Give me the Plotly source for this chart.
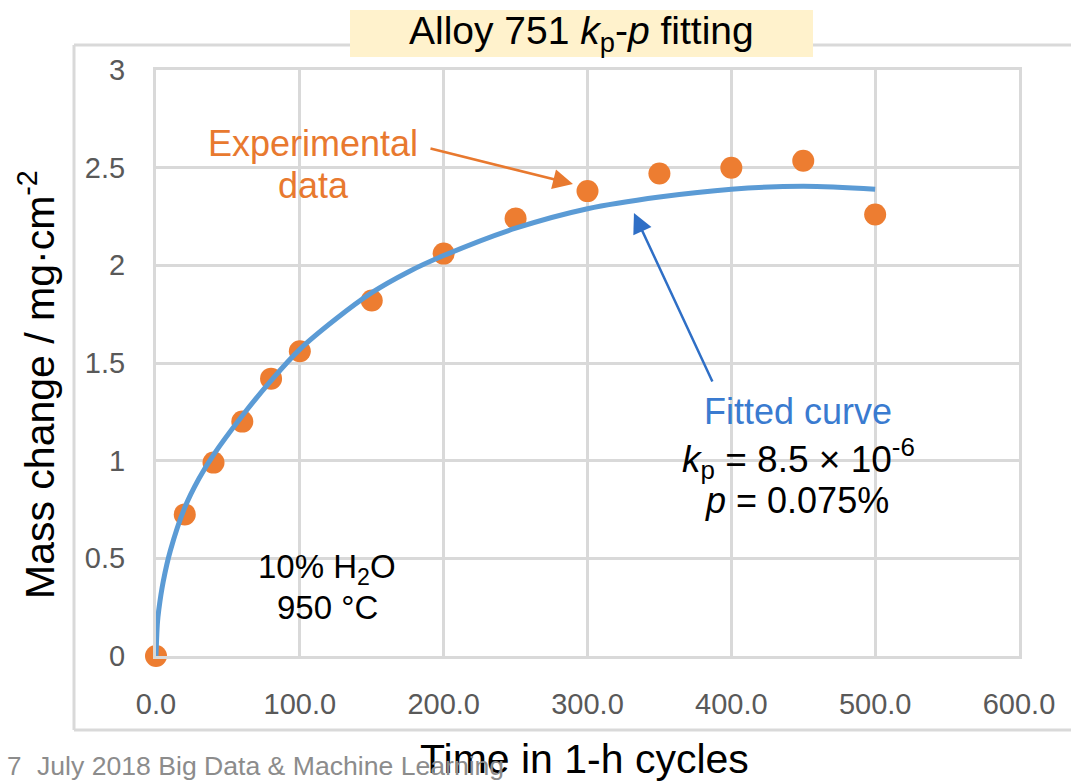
import plotly.graph_objects as go

# ---- data ----
exp_time = [0, 20, 40, 60, 80, 100, 150, 200, 250, 300, 350, 400, 450, 500]
exp_mass = [0.0, 0.725, 0.99, 1.20, 1.42, 1.56, 1.82, 2.06, 2.24, 2.38, 2.47, 2.50, 2.535, 2.26]

fit_time = [0, 1, 2, 5, 10, 20, 30, 40, 60, 80, 100, 125, 150, 175, 200, 250, 300, 350, 400, 450, 500]
fit_mass = [0.0, 0.17, 0.24, 0.38, 0.54, 0.76, 0.91, 1.03, 1.23, 1.41, 1.57, 1.725, 1.86, 1.965, 2.05,
            2.19, 2.29, 2.35, 2.39, 2.405, 2.39]

x_ticks = [0, 100, 200, 300, 400, 500, 600]
y_ticks = [0, 0.5, 1, 1.5, 2, 2.5, 3]

# ---- layout geometry (pixels) ----
W, H = 1071, 782
L, R, T, B = 156, 1019, 70, 656


def px(x):
    return (x - L) / (R - L)


def py(y):
    return (B - y) / (B - T)


ORANGE = "#ED7D31"
BLUE = "#5B9BD5"
GRID = "#d9d9d9"
FONT = "Liberation Sans, Arial, sans-serif"
NARROW = "Liberation Sans Narrow, Arial Narrow, Liberation Sans, sans-serif"

fig = go.Figure()
fig.add_trace(go.Scatter(x=exp_time, y=exp_mass, mode="markers", cliponaxis=False,
                         marker=dict(size=22, color=ORANGE), showlegend=False))
fig.add_trace(go.Scatter(x=fit_time, y=fit_mass, mode="lines", cliponaxis=False,
                         line=dict(color=BLUE, width=5, shape="spline", smoothing=1.0),
                         showlegend=False))

fig.update_layout(
    width=W, height=H,
    margin=dict(l=L, r=W - R, t=T, b=H - B),
    paper_bgcolor="white", plot_bgcolor="white",
    xaxis=dict(range=[0, 600], tickvals=x_ticks, tickformat=".1f",
               showgrid=True, gridcolor=GRID, gridwidth=2.5, zeroline=False,
               showline=True, linecolor=GRID, linewidth=3, mirror=True,
               ticks="", ticklabelstandoff=20,
               tickfont=dict(family=NARROW, size=29, color="#595959")),
    yaxis=dict(range=[0, 3], tickvals=y_ticks,
               showgrid=True, gridcolor=GRID, gridwidth=2.5, zeroline=False,
               showline=True, linecolor=GRID, linewidth=3, mirror=True,
               ticks="", ticklabelstandoff=22,
               tickfont=dict(family=NARROW, size=29, color="#595959")),
    font=dict(family=FONT),
)

shapes = [
    # outer chart-area frame
    dict(type="line", xref="paper", yref="paper", x0=px(74), x1=px(74), y0=py(45), y1=py(730),
         line=dict(color=GRID, width=3)),
    dict(type="line", xref="paper", yref="paper", x0=px(74), x1=px(1075), y0=py(45), y1=py(45),
         line=dict(color=GRID, width=3)),
    dict(type="line", xref="paper", yref="paper", x0=px(74), x1=px(1075), y0=py(730), y1=py(730),
         line=dict(color=GRID, width=3)),
    # title box
    dict(type="rect", xref="paper", yref="paper", x0=px(350), x1=px(813), y0=py(57), y1=py(10),
         fillcolor="#FFF2CC", line=dict(width=0)),
]
fig.update_layout(shapes=shapes)

ann = []


def text(x, y, s, size, color="black", xanchor="center", family=FONT):
    ann.append(dict(xref="paper", yref="paper", x=px(x), y=py(y), text=s, showarrow=False,
                    xanchor=xanchor, yanchor="middle",
                    font=dict(family=family, size=size, color=color)))


text(581, 33, "Alloy 751 <i>k</i><sub>p</sub>-<i>p</i> fitting", 39)
text(584, 759, "Time in 1-h cycles", 41)
ann.append(dict(xref="paper", yref="paper", x=px(37), y=py(385),
                text="Mass change / mg·cm<sup>-2</sup>", showarrow=False, textangle=-90,
                xanchor="center", yanchor="middle",
                font=dict(family=FONT, size=41, color="black")))
text(313, 143, "Experimental", 36, "#E8792F")
text(313, 186, "data", 36, "#E8792F")
text(798, 411, "Fitted curve", 36, "#3A7BD0")
text(798, 458, "<i>k</i><sub>p</sub> = 8.5 × 10<sup>-6</sup>", 37)
text(797, 500, "<i>p</i> = 0.075%", 36)
text(327, 569, "10% H<sub>2</sub>O", 33)
text(327, 607, "950 °C", 33)
text(5, 766, "7", 26, "#8c8c8c", "left", NARROW)
text(35, 766, "July 2018 Big Data &amp; Machine Learning", 26.6, "#8c8c8c", "left", NARROW)

# arrows
ann.append(dict(xref="x", yref="y", axref="x", ayref="y",
                x=289.9, y=2.416, ax=189.8, ay=2.60, text="", showarrow=True,
                arrowhead=2, arrowsize=1.6, arrowwidth=2.5, arrowcolor="#E8792F", standoff=0))
ann.append(dict(xref="x", yref="y", axref="x", ayref="y",
                x=332.3, y=2.268, ax=387.3, ay=1.398, text="", showarrow=True,
                arrowhead=2, arrowsize=1.6, arrowwidth=2.5, arrowcolor="#2F6FC6", standoff=0))
fig.update_layout(annotations=ann)

fig.write_html("out.html")
